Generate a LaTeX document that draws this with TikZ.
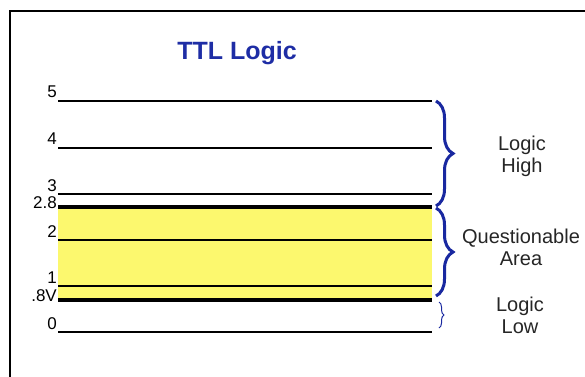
\documentclass[tikz,border=0pt]{standalone}
\usepackage{fontspec}
\setmainfont{Liberation Sans}
\usetikzlibrary{decorations.pathreplacing}
\definecolor{ttlblue}{RGB}{30,45,165}
\definecolor{bracecol}{RGB}{25,40,160}
\definecolor{qyellow}{RGB}{252,248,110}
\tikzset{
  lvl/.style={line width=1.6pt, black},
  lvlthick/.style={line width=4pt, black},
  vlabel/.style={anchor=base east, inner sep=0pt, font=\fontsize{17}{19}\selectfont},
  rlabel/.style={align=center, inner sep=0pt, font=\fontsize{20}{22}\selectfont, text=black!85},
  bigbrace/.style={decorate, decoration={brace, amplitude=17pt}, line width=3pt, bracecol},
  smallbrace/.style={decorate, decoration={brace, amplitude=5pt}, line width=1pt, bracecol},
}
\begin{document}
\begin{tikzpicture}[x=1pt,y=-1pt]
\useasboundingbox (0,0) rectangle (585,376);
\fill[white] (0,0) rectangle (585,376);
% frame
\draw[line width=2pt] (10,377) -- (10,11) -- (586,11);
% title
\node[anchor=base, inner sep=0pt, text=ttlblue, font=\fontsize{25}{28}\selectfont\bfseries] (title) at (237,59) {TTL Logic};
% yellow area
\fill[qyellow] (58,208) rectangle (432,299);
% level lines
\draw[lvl] (58,101) -- (432,101);
\draw[lvl] (58,148) -- (432,148);
\draw[lvl] (58,194) -- (432,194);
\draw[lvlthick] (58,207) -- (432,207);
\draw[lvl] (58,240) -- (432,240);
\draw[lvl] (58,286) -- (432,286);
\draw[lvlthick] (58,300) -- (432,300);
\draw[lvl] (58,332) -- (432,332);
% labels
\node[vlabel] (l5) at (57,97) {5};
\node[vlabel] (l4) at (57,144) {4};
\node[vlabel] (l3) at (57,191) {3};
\node[vlabel] (l28) at (57,208) {2.8};
\node[vlabel] (l2) at (57,237) {2};
\node[vlabel] (l1) at (57,283) {1};
\node[vlabel] (l08) at (57,301) {.8V};
\node[vlabel] (l0) at (57,329) {0};
% braces
\coordinate (hT) at (436,101);
\coordinate (hB) at (436,206);
\coordinate (qT) at (436,208);
\coordinate (qB) at (436,296);
\coordinate (lT) at (439,302);
\coordinate (lB) at (439,328);
\draw[bigbrace] (hT) -- (hB);
\draw[bigbrace] (qT) -- (qB);
\draw[smallbrace] (lT) -- (lB);
% right labels
\node[rlabel] (high) at (522,156) {Logic\\High};
\node[rlabel] (quest) at (521,247) {Questionable\\Area};
\node[rlabel] (low) at (520,315) {Logic\\Low};
\end{tikzpicture}
\end{document}
